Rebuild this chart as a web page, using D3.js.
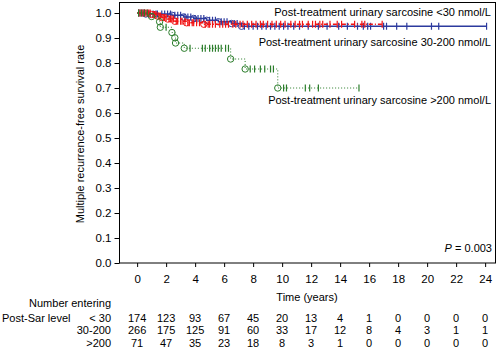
<!DOCTYPE html>
<html>
<head>
<meta charset="utf-8">
<script src="https://cdn.jsdelivr.net/npm/d3@7"></script>
<style>
  body { margin: 0; background: #fff; }
  text { font-family: "Liberation Sans", Arial, sans-serif; font-size: 11px; fill: #000; }
</style>
</head>
<body>
<div id="chart"></div>
<script>
"use strict";

// step points (time in years, survival after the event) for each group
const lowEvents  = [[0, 1], [1.0, 0.994], [1.4, 0.988], [1.7, 0.982], [2.1, 0.976], [2.6, 0.967], [3.4, 0.961], [4.6, 0.955]];
const midEvents  = [[0, 1], [0.6, 0.996], [2.4, 0.991], [3.2, 0.984], [3.9, 0.978], [4.8, 0.971], [5.6, 0.965], [6.5, 0.958], [7.2, 0.947]];
const highEvents = [[0, 1], [1.0, 0.986], [1.55, 0.965], [1.6, 0.943], [2.4, 0.922], [2.6, 0.901], [2.65, 0.880], [3.25, 0.859], [6.45, 0.816], [7.45, 0.776], [9.7, 0.700]];

// censored times
const lowCensored = [0.1, 0.2, 0.3, 0.4, 0.5, 0.6, 0.7, 0.8, 0.9, 1.1, 1.2, 1.3, 1.5, 1.6, 1.8, 1.9, 2.0, 2.2, 2.3, 2.4, 2.5,
  2.7, 2.8, 3.0, 3.1, 3.3, 3.5, 3.6, 3.8, 3.9, 4.1, 4.3, 4.7, 4.9, 5.0, 5.2, 5.4, 5.7, 5.9, 6.1, 6.3, 6.6, 6.8, 7.1,
  7.3, 7.6, 7.9, 8.2, 8.5, 8.7, 9.0, 9.3, 9.6, 9.9, 10.2, 10.6, 10.9, 11.2, 11.4, 11.8, 12.1, 12.3, 12.6, 12.8, 13.3,
  13.8, 14.1, 15.0, 15.5, 15.7, 16.9];
const midCensored = [0.1, 0.2, 0.4, 0.5, 0.8, 0.9, 1.1, 1.3, 1.4, 1.7, 1.9, 2.1, 2.3, 2.6, 2.8, 3.0, 3.3, 3.5, 3.7, 4.0, 4.2,
  4.4, 4.6, 5.0, 5.2, 5.4, 5.8, 6.0, 6.2, 6.7, 6.9, 7.4, 7.7, 8.0, 8.3, 8.6, 8.9, 9.2, 9.5, 9.8, 10.1, 10.4, 10.8,
  11.2, 11.8, 12.5, 13.1, 13.9, 14.5, 15.2, 15.6, 15.9, 16.1, 17.0, 17.2, 17.9, 18.6, 20.3, 20.8, 24.1];
const highCensored = [0.1, 0.3, 0.5, 0.7, 2.0, 3.65, 4.5, 4.7, 5.0, 5.2, 5.4, 5.6, 5.8, 6.1, 6.3,
  7.8, 8.1, 8.5, 8.8, 9.2, 9.4, 10.1, 10.3, 11.6, 11.9, 12.5, 15.3];

// number at risk table
const riskYears = [0, 2, 4, 6, 8, 10, 12, 14, 16, 18, 20, 22, 24];
const riskLow  = [174, 123, 93, 67, 45, 20, 13, 4, 1, 0, 0, 0, 0];
const riskMid  = [266, 175, 125, 91, 60, 33, 17, 12, 8, 4, 3, 1, 1];
const riskHigh = [71, 47, 35, 23, 18, 8, 3, 1, 0, 0, 0, 0, 0];

const yTicks = [0, 0.1, 0.2, 0.3, 0.4, 0.5, 0.6, 0.7, 0.8, 0.9, 1.0];

const width = 500, height = 352;
const svg = d3.select("#chart").append("svg")
    .attr("width", width)
    .attr("height", height);

const x = d3.scaleLinear().domain([-1.25, 24.75]).range([119, 496]);
const y = d3.scaleLinear().domain([0, 1]).range([263, 13]);

// frame
svg.append("rect")
    .attr("x", 119.5).attr("y", 2.5)
    .attr("width", 376).attr("height", 260.5)
    .attr("fill", "none").attr("stroke", "#000").attr("stroke-width", 1);

const yAxis = svg.append("g")
    .attr("transform", "translate(119.5,0)")
    .call(d3.axisLeft(y).tickValues(yTicks).tickFormat(d3.format(".1f")).tickSize(5).tickPadding(3));
yAxis.select(".domain").remove();

const xAxis = svg.append("g")
    .attr("transform", "translate(0,263)")
    .call(d3.axisBottom(x).tickValues(riskYears).tickSize(4).tickPadding(8));
xAxis.select(".domain").remove();
svg.selectAll(".tick text").style("font-family", "Liberation Sans, Arial, sans-serif").style("font-size", "11.5px");

svg.append("text")
    .attr("transform", "translate(84,134) rotate(-90)")
    .attr("text-anchor", "middle")
    .text("Multiple recurrence-free survival rate");

svg.append("text")
    .attr("x", 307).attr("y", 301)
    .attr("text-anchor", "middle")
    .text("Time (years)");

// survival value at a given time
function survAt(events, t) {
  const i = d3.bisector(d => d[0]).right(events, t) - 1;
  return events[Math.max(i, 0)][1];
}

const groups = [
  {events: midEvents, cens: midCensored, color: "#2c3a9e", dash: null, w: 1.3},
  {events: lowEvents, cens: lowCensored, color: "#f21414", dash: "4,2,1,2", w: 1.3},
  {events: highEvents, cens: highCensored, color: "#2b7d2b", dash: "1,2", w: 1}
];

const line = d3.line()
    .x(d => x(d[0]))
    .y(d => y(d[1]))
    .curve(d3.curveStepAfter);

groups.forEach(function(g) {
  const lastT = d3.max(g.cens);
  const pts = g.events.concat([[lastT, g.events[g.events.length - 1][1]]]);
  const gg = svg.append("g");
  gg.append("path")
      .datum(pts)
      .attr("d", line)
      .attr("fill", "none")
      .attr("stroke", g.color)
      .attr("stroke-width", g.w)
      .attr("stroke-dasharray", g.dash);
  gg.selectAll("line.cens")
      .data(g.cens)
      .enter().append("line")
      .attr("x1", d => x(d)).attr("x2", d => x(d))
      .attr("y1", d => y(survAt(g.events, d)) - 3.5)
      .attr("y2", d => y(survAt(g.events, d)) + 3.5)
      .attr("stroke", g.color)
      .attr("stroke-width", 1.2);
  gg.selectAll("circle")
      .data(g.events.slice(1))
      .enter().append("circle")
      .attr("cx", d => x(d[0]))
      .attr("cy", d => y(d[1]))
      .attr("r", 3.2)
      .attr("fill", "none")
      .attr("stroke", g.color)
      .attr("stroke-width", 1);
});

// curve labels
svg.append("text").attr("x", 491).attr("y", 16).attr("text-anchor", "end")
    .text("Post-treatment urinary sarcosine <30 nmol/L");
svg.append("text").attr("x", 491).attr("y", 46).attr("text-anchor", "end")
    .text("Post-treatment urinary sarcosine 30-200 nmol/L");
svg.append("text").attr("x", 491).attr("y", 104).attr("text-anchor", "end")
    .text("Post-treatment urinary sarcosine >200 nmol/L");

const pText = svg.append("text").attr("x", 492).attr("y", 252).attr("text-anchor", "end");
pText.append("tspan").style("font-style", "italic").text("P");
pText.append("tspan").text(" = 0.003");

// number entering table
svg.append("text").attr("x", 111).attr("y", 307).attr("text-anchor", "end").text("Number entering");
svg.append("text").attr("x", 2).attr("y", 322).text("Post-Sar level");

const rows = [
  {label: "< 30", vals: riskLow, y: 322},
  {label: "30-200", vals: riskMid, y: 334},
  {label: ">200", vals: riskHigh, y: 347}
];
rows.forEach(function(r) {
  svg.append("text").attr("x", 111).attr("y", r.y).attr("text-anchor", "end").text(r.label);
  svg.append("g").selectAll("text")
      .data(r.vals)
      .enter().append("text")
      .attr("x", (d, i) => x(riskYears[i]))
      .attr("y", r.y)
      .attr("text-anchor", "middle")
      .text(d => d);
});
</script>
</body>
</html>
